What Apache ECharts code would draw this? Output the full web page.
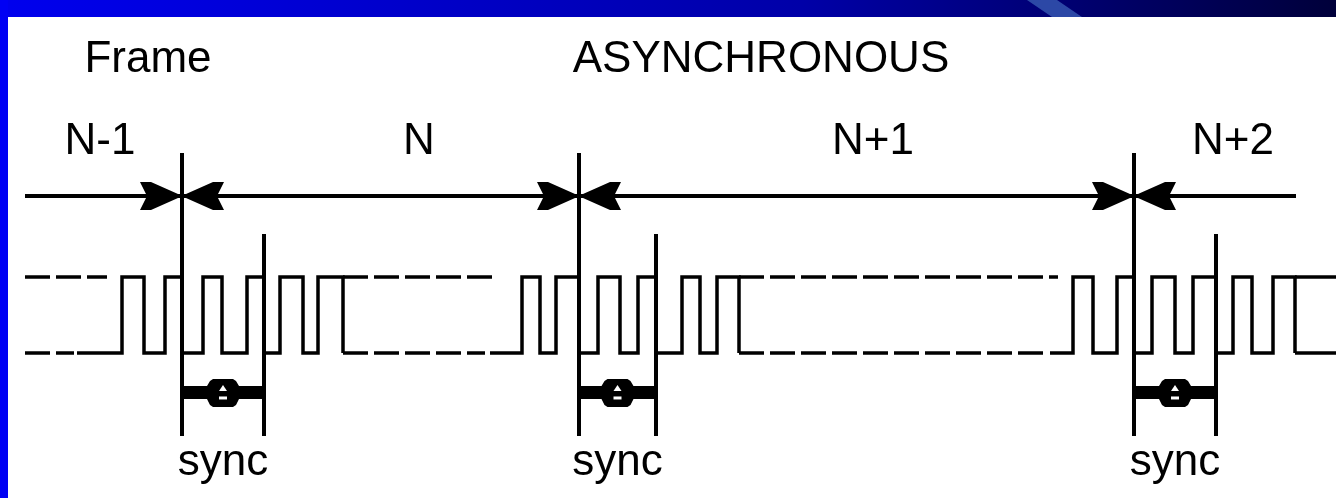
<!DOCTYPE html>
<html>
<head>
<meta charset="utf-8">
<script src="https://cdn.jsdelivr.net/npm/echarts/dist/echarts.min.js"></script>
<style>
  html, body { margin: 0; padding: 0; background: #fff; }
  #chart { width: 1336px; height: 498px; }
</style>
</head>
<body>
<div id="chart"></div>
<script>
// ---------- data (time axis units) ----------
const frameEdges1 = [122, 144, 165, 182, 203, 222, 247, 264, 280, 303, 318, 343];
const frameEdges2 = [522, 540, 556, 579, 598, 620, 638, 656, 682, 700, 717, 739];
const frameEdges3 = [1073, 1093, 1117, 1134, 1152, 1175, 1193, 1216, 1233, 1252, 1273, 1295];
const lowStart = [77, 490, 1050];
const topIdle = [[25, 107], [343, 495], [739, 1058]];
const bottomIdle = [[25, 74], [343, 485], [739, 1043]];
const tailSolid = [1295, 1336];
const syncStart = [182, 579, 1134];
const syncEnd = [264, 656, 1216];
const timelineRange = [25, 1296];
const frameLabels = ['N-1', 'N', 'N+1', 'N+2'];
const frameLabelX = [100, 419, 873, 1233];
const syncLabel = 'sync';

// ---------- layout (signal levels: low = 0, high = 1) ----------
const LOW = 0, HIGH = 1;
const ROW = {
  timeline: 2.066,
  syncTop: 2.632,
  syncInnerTop: 1.566,
  syncBottom: -1.092,
  syncArrow: -0.526,
  frameLabel: 2.78,
  syncLabel: -1.45
};
const INK = '#000';
const FONT = 'Liberation Sans, Arial, Helvetica, sans-serif';

const series = [];
const solid = (data, w) => ({
  type: 'line', data: data, clip: false, symbol: 'none', silent: true,
  lineStyle: { color: INK, width: w || 3.5, cap: 'butt', join: 'miter', opacity: 1 }, animation: false
});
const dashed = (data) => ({
  type: 'line', data: data, clip: false, symbol: 'none', silent: true,
  lineStyle: { color: INK, width: 3.5, type: [25, 6], cap: 'butt', opacity: 1 }, animation: false
});

// signal waveforms
[frameEdges1, frameEdges2, frameEdges3].forEach((edges, f) => {
  const pts = [[lowStart[f], LOW]];
  edges.forEach((e, i) => {
    if (i % 2 === 0) { pts.push([e, LOW], [e, HIGH]); }
    else { pts.push([e, HIGH], [e, LOW]); }
  });
  series.push(solid(pts));
});
// idle (undetermined) levels
topIdle.forEach(s => series.push(dashed([[s[0], HIGH], [s[1], HIGH]])));
bottomIdle.forEach(s => series.push(dashed([[s[0], LOW], [s[1], LOW]])));
series.push(solid([[tailSolid[0], HIGH], [tailSolid[1], HIGH]]));
series.push(solid([[tailSolid[0], LOW], [tailSolid[1], LOW]]));

// frame time line
series.push(solid([[timelineRange[0], ROW.timeline], [timelineRange[1], ROW.timeline]], 4));

// sync markers
syncStart.forEach((s, i) => {
  series.push(solid([[s, ROW.syncTop], [s, ROW.syncBottom]], 4));
  series.push(solid([[syncEnd[i], ROW.syncInnerTop], [syncEnd[i], ROW.syncBottom]], 4));
});

const arrowRight = 'path://M0,0 L11,0 L38,12 L38,16 L11,28 L0,28 L7,14 Z';
const arrowLeft = 'path://M38,0 L27,0 L0,12 L0,16 L27,28 L38,28 L31,14 Z';
const arrowBase = { type: 'scatter', clip: false, silent: true, animation: false, symbolKeepAspect: false,
  itemStyle: { color: INK, opacity: 1 } };
series.push(Object.assign({}, arrowBase, {
  data: syncStart.map(s => [s, ROW.timeline]), symbol: arrowRight, symbolSize: [38, 28], symbolOffset: [-23, 0]
}));
series.push(Object.assign({}, arrowBase, {
  data: syncStart.map(s => [s, ROW.timeline]), symbol: arrowLeft, symbolSize: [38, 28], symbolOffset: [23, 0]
}));
// sync width double arrow (blob)
const blob = 'path://M0,7 L24,7 L27,2 L30,0 L50,0 L53,2 L56,7 L80,7 L80,20 L56,20 L53,26 L50,28 L30,28 L27,26 L24,20 L0,20 Z';
const syncMid = syncStart.map((s, i) => [(s + syncEnd[i]) / 2, ROW.syncArrow]);
series.push(Object.assign({}, arrowBase, { data: syncMid, symbol: blob, symbolSize: [80, 28] }));
series.push(Object.assign({}, arrowBase, {
  data: syncMid, symbol: 'triangle', symbolSize: [8, 6],
  symbolOffset: [0, -5], itemStyle: { color: '#fff', opacity: 1 }, z: 5
}));
series.push(Object.assign({}, arrowBase, {
  data: syncMid, symbol: 'rect', symbolSize: [8, 3],
  symbolOffset: [0, 5], itemStyle: { color: '#fff', opacity: 1 }, z: 5
}));

// labels
const labelSeries = (data, text) => ({
  type: 'scatter', clip: false, silent: true, animation: false, symbolSize: 1,
  itemStyle: { color: 'rgba(0,0,0,0)', opacity: 1 }, data: data,
  label: { show: true, position: 'inside', color: INK, opacity: 1, fontFamily: FONT, fontSize: 44,
    formatter: text }
});
series.push(labelSeries(frameLabels.map((t, i) => ({ value: [frameLabelX[i], ROW.frameLabel], name: t })), p => p.name));
series.push(labelSeries(syncMid, () => syncLabel));
series[series.length - 1].data = syncMid.map(p => [p[0], ROW.syncLabel]);

const chart = echarts.init(document.getElementById('chart'), null, { renderer: 'canvas' });
chart.setOption({
  backgroundColor: '#fff',
  animation: false,
  grid: { left: 0, right: 0, top: 277, bottom: 145 },
  xAxis: { type: 'value', min: 0, max: 1336, show: false },
  yAxis: { type: 'value', min: 0, max: 1, show: false },
  graphic: [
    { type: 'rect', left: 0, top: 0, shape: { width: 1336, height: 17 }, silent: true,
      style: { fill: new echarts.graphic.LinearGradient(0, 0, 1, 0, [
        { offset: 0, color: '#0000ee' }, { offset: 0.6, color: '#0000a8' }, { offset: 1, color: '#00003a' }]) } },
    { type: 'polygon', shape: { points: [[1027, 0], [1057, 0], [1082, 17], [1052, 17]] }, silent: true,
      style: { fill: '#2c48a6' } },
    { type: 'rect', left: 0, top: 0, shape: { width: 8, height: 498 }, silent: true, style: { fill: '#0000f4' } },
    { type: 'text', x: 148, y: 60, silent: true,
      style: { text: 'Frame', fill: INK, font: '44px ' + FONT, align: 'center', verticalAlign: 'middle' } },
    { type: 'text', x: 761, y: 60, silent: true,
      style: { text: 'ASYNCHRONOUS', fill: INK, font: '44px ' + FONT, align: 'center', verticalAlign: 'middle' } }
  ],
  series: series
});
</script>
</body>
</html>
